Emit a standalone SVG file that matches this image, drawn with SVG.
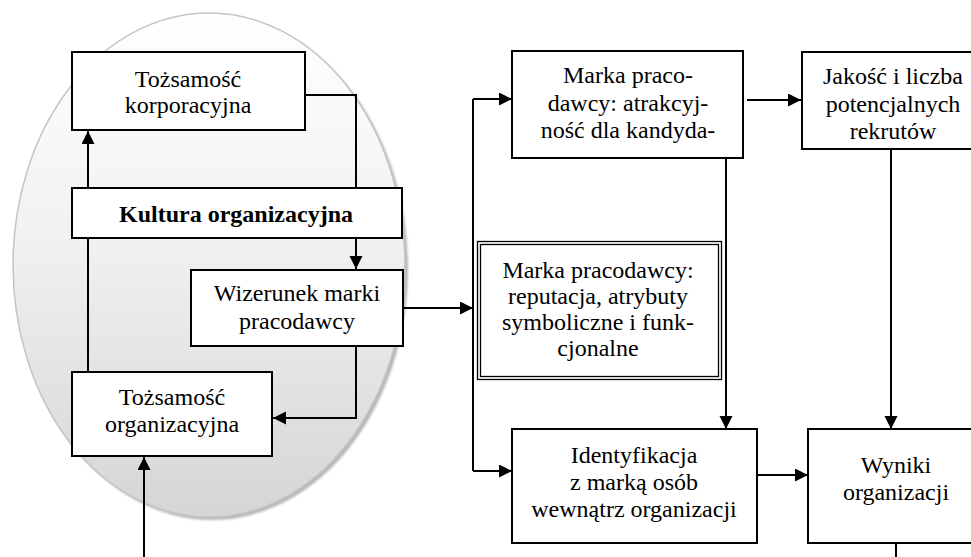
<svg xmlns="http://www.w3.org/2000/svg" width="971" height="557" viewBox="0 0 971 557">
  <style>
    .box { fill: #ffffff; stroke: #000000; stroke-width: 2; }
    .thin { fill: none; stroke: #000000; stroke-width: 1.3; }
    .lbl { font-family: "Liberation Serif", "Times New Roman", serif; font-size: 24px; fill: #000000; text-anchor: middle; }
    .bold { font-weight: bold; }
    .conn { fill: none; stroke: #000000; stroke-width: 2; }
  </style>
  <defs>
    <linearGradient id="ovalFill" x1="0" y1="0" x2="0" y2="1">
      <stop offset="0" stop-color="#ffffff"/>
      <stop offset="0.45" stop-color="#f1f1f1"/>
      <stop offset="1" stop-color="#d5d5d5"/>
    </linearGradient>
    <filter id="soft" x="-10%" y="-10%" width="120%" height="120%">
      <feGaussianBlur stdDeviation="1.2"/>
    </filter>
    <marker id="arrow" markerUnits="userSpaceOnUse" markerWidth="14" markerHeight="14" refX="13" refY="6.5" orient="auto">
      <path d="M0,0 L13,6.5 L0,13 Z" fill="#000000"/>
    </marker>
  </defs>

  <!-- background oval with drop shadow -->
  <g id="oval">
    <ellipse cx="212" cy="268" rx="196" ry="252" fill="#b8b8b8" filter="url(#soft)"/>
    <ellipse cx="209" cy="265" rx="196" ry="252" fill="url(#ovalFill)" stroke="#c4c4c4" stroke-width="1.5"/>
  </g>

  <!-- connectors -->
  <g id="connectors">
    <path class="conn" d="M305,95 H356 V269" marker-end="url(#arrow)"/>
    <path class="conn" d="M88,372 V131" marker-end="url(#arrow)"/>
    <path class="conn" d="M356,346 V418 H273" marker-end="url(#arrow)"/>
    <path class="conn" d="M144,557 V457" marker-end="url(#arrow)"/>
    <path class="conn" d="M403,308 H473" marker-end="url(#arrow)"/>
    <path class="conn" d="M473,99 V471"/>
    <path class="conn" d="M473,99 H512" marker-end="url(#arrow)"/>
    <path class="conn" d="M473,471 H512" marker-end="url(#arrow)"/>
    <path class="conn" d="M747,100 H801" marker-end="url(#arrow)"/>
    <path class="conn" d="M726,158 V429" marker-end="url(#arrow)"/>
    <path class="conn" d="M891,149 V429" marker-end="url(#arrow)"/>
    <path class="conn" d="M758,475 H808" marker-end="url(#arrow)"/>
    <path class="conn" d="M896,543 V557"/>
  </g>

  <g id="tozsamosc-korporacyjna">
    <rect class="box" x="72" y="52" width="233" height="78"/>
    <text class="lbl" x="188" y="87">Tożsamość</text>
    <text class="lbl" x="188" y="113">korporacyjna</text>
  </g>

  <g id="kultura-organizacyjna">
    <rect class="box" x="72" y="188" width="330" height="50"/>
    <text class="lbl bold" x="236" y="222">Kultura organizacyjna</text>
  </g>

  <g id="wizerunek-marki">
    <rect class="box" x="191" y="270" width="212" height="76"/>
    <text class="lbl" x="297" y="301">Wizerunek marki</text>
    <text class="lbl" x="297" y="329">pracodawcy</text>
  </g>

  <g id="tozsamosc-organizacyjna">
    <rect class="box" x="72" y="372" width="200" height="84"/>
    <text class="lbl" x="172" y="405">Tożsamość</text>
    <text class="lbl" x="172" y="432">organizacyjna</text>
  </g>

  <g id="marka-atrakcyjnosc">
    <rect class="box" x="512" y="51" width="231" height="107"/>
    <text class="lbl" x="628" y="83">Marka praco-</text>
    <text class="lbl" x="628" y="111">dawcy: atrakcyj-</text>
    <text class="lbl" x="628" y="138">ność dla kandyda-</text>
  </g>

  <g id="jakosc-rekrutow">
    <rect class="box" x="802" y="52" width="180" height="97"/>
    <text class="lbl" x="893" y="84">Jakość i liczba</text>
    <text class="lbl" x="893" y="112">potencjalnych</text>
    <text class="lbl" x="893" y="139">rekrutów</text>
  </g>

  <g id="marka-reputacja">
    <rect class="thin" x="477.5" y="241.5" width="244" height="138"/>
    <rect class="thin" x="480.5" y="244.5" width="238" height="132"/>
    <text class="lbl" x="598" y="278">Marka pracodawcy:</text>
    <text class="lbl" x="598" y="304">reputacja, atrybuty</text>
    <text class="lbl" x="598" y="330">symboliczne i funk-</text>
    <text class="lbl" x="598" y="356">cjonalne</text>
  </g>

  <g id="identyfikacja">
    <rect class="box" x="512" y="429" width="245" height="114"/>
    <text class="lbl" x="634" y="463">Identyfikacja</text>
    <text class="lbl" x="634" y="490">z marką osób</text>
    <text class="lbl" x="634" y="517">wewnątrz organizacji</text>
  </g>

  <g id="wyniki-organizacji">
    <rect class="box" x="808" y="429" width="175" height="114"/>
    <text class="lbl" x="896" y="473">Wyniki</text>
    <text class="lbl" x="896" y="500">organizacji</text>
  </g>
</svg>
